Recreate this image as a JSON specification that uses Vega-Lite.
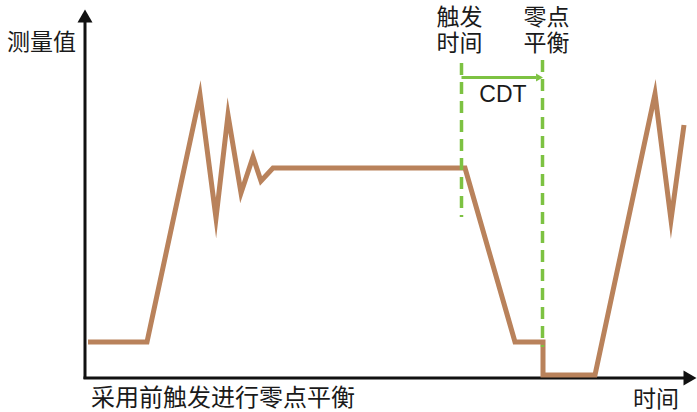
{
  "$schema": "https://vega.github.io/schema/vega-lite/v6.json",
  "width": 697,
  "height": 412,
  "autosize": "none",
  "padding": 0,
  "background": "white",
  "config": {"view": {"stroke": null}},
  "datasets": {
    "signal": [
      {"t": 88, "v": 70},
      {"t": 147, "v": 70},
      {"t": 200, "v": 317},
      {"t": 216, "v": 194},
      {"t": 228, "v": 297},
      {"t": 241, "v": 219},
      {"t": 253, "v": 255},
      {"t": 261, "v": 231},
      {"t": 273, "v": 244},
      {"t": 465, "v": 244},
      {"t": 515, "v": 70},
      {"t": 543, "v": 70},
      {"t": 543, "v": 37},
      {"t": 595, "v": 37},
      {"t": 655, "v": 318},
      {"t": 671, "v": 192},
      {"t": 684, "v": 287}
    ],
    "axes": [
      {"t": 85, "v": 33, "t2": 85, "v2": 396},
      {"t": 83.5, "v": 34, "t2": 684, "v2": 34}
    ],
    "arrows": [
      {"t": 85, "v": 396, "shape": "triangle-up"},
      {"t": 690, "v": 34, "shape": "triangle-right"}
    ],
    "dashes": [
      {"t": 461.5, "v": 349, "t2": 461.5, "v2": 195},
      {"t": 542.5, "v": 352, "t2": 542.5, "v2": 65}
    ],
    "cdt": [{"t": 461.5, "v": 334.5, "t2": 536, "v2": 334.5}],
    "cdtHead": [{"t": 539.5, "v": 334.5}],
    "labels": [
      {"t": 41.5, "v": 369, "text": "测量值"},
      {"t": 459.5, "v": 394, "text": "触发"},
      {"t": 459.5, "v": 368, "text": "时间"},
      {"t": 546.5, "v": 394, "text": "零点"},
      {"t": 546.5, "v": 368, "text": "平衡"},
      {"t": 656, "v": 12, "text": "时间"}
    ],
    "bottomLabel": [{"t": 91, "v": 13, "text": "采用前触发进行零点平衡"}],
    "cdtLabel": [{"t": 503, "v": 317, "text": "CDT"}]
  },
  "layer": [
    {
      "data": {"name": "axes"},
      "mark": {"type": "rule", "color": "#111111", "strokeWidth": 3},
      "encoding": {
        "x": {"field": "t", "type": "quantitative", "scale": {"domain": [0, 697], "nice": false, "zero": false}, "axis": null},
        "y": {"field": "v", "type": "quantitative", "scale": {"domain": [0, 412], "nice": false, "zero": false}, "axis": null},
        "x2": {"field": "t2"},
        "y2": {"field": "v2"}
      }
    },
    {
      "data": {"name": "arrows"},
      "mark": {"type": "point", "filled": true, "color": "#111111", "size": 225, "opacity": 1},
      "encoding": {
        "x": {"field": "t", "type": "quantitative"},
        "y": {"field": "v", "type": "quantitative"},
        "shape": {"field": "shape", "type": "nominal", "scale": null, "legend": null}
      }
    },
    {
      "data": {"name": "signal"},
      "mark": {"type": "line", "color": "#B9825B", "strokeWidth": 5, "strokeJoin": "miter", "strokeMiterLimit": 10},
      "encoding": {
        "x": {"field": "t", "type": "quantitative"},
        "y": {"field": "v", "type": "quantitative"},
        "order": {"value": null}
      }
    },
    {
      "data": {"name": "dashes"},
      "mark": {"type": "rule", "color": "#7DC242", "strokeWidth": 3.5, "strokeDash": [12, 7]},
      "encoding": {
        "x": {"field": "t", "type": "quantitative"},
        "y": {"field": "v", "type": "quantitative"},
        "x2": {"field": "t2"},
        "y2": {"field": "v2"}
      }
    },
    {
      "data": {"name": "cdt"},
      "mark": {"type": "rule", "color": "#7DC242", "strokeWidth": 3},
      "encoding": {
        "x": {"field": "t", "type": "quantitative"},
        "y": {"field": "v", "type": "quantitative"},
        "x2": {"field": "t2"},
        "y2": {"field": "v2"}
      }
    },
    {
      "data": {"name": "cdtHead"},
      "mark": {"type": "point", "shape": "triangle-right", "filled": true, "color": "#7DC242", "size": 64, "opacity": 1},
      "encoding": {
        "x": {"field": "t", "type": "quantitative"},
        "y": {"field": "v", "type": "quantitative"}
      }
    },
    {
      "data": {"name": "labels"},
      "mark": {"type": "text", "font": "Noto Sans CJK SC", "fontSize": 23, "color": "#1a1a1a", "baseline": "middle", "align": "center"},
      "encoding": {
        "x": {"field": "t", "type": "quantitative"},
        "y": {"field": "v", "type": "quantitative"},
        "text": {"field": "text"}
      }
    },
    {
      "data": {"name": "bottomLabel"},
      "mark": {"type": "text", "font": "Noto Sans CJK SC", "fontSize": 24, "color": "#1a1a1a", "baseline": "middle", "align": "left"},
      "encoding": {
        "x": {"field": "t", "type": "quantitative"},
        "y": {"field": "v", "type": "quantitative"},
        "text": {"field": "text"}
      }
    },
    {
      "data": {"name": "cdtLabel"},
      "mark": {"type": "text", "font": "Liberation Sans", "fontSize": 23, "color": "#1a1a1a", "baseline": "middle", "align": "center"},
      "encoding": {
        "x": {"field": "t", "type": "quantitative"},
        "y": {"field": "v", "type": "quantitative"},
        "text": {"field": "text"}
      }
    }
  ]
}
